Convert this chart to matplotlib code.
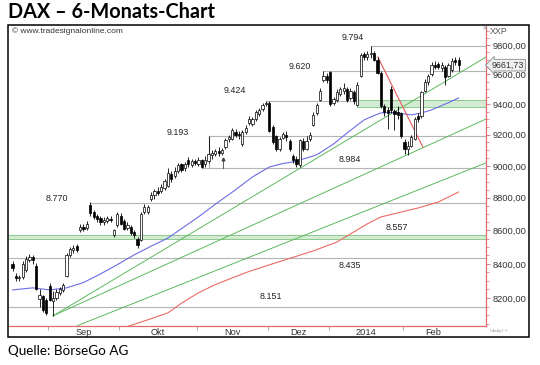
import numpy as np
import matplotlib.pyplot as plt
from matplotlib.patches import Rectangle
from matplotlib.ticker import FixedLocator, NullFormatter
from matplotlib.transforms import blended_transform_factory

# DAX daily candles, trading days from 16 Aug 2013
opens = [8400, 8330, 8315, 8320, 8365, 8420, 8440, 8390, 8195, 8210, 8190, 8270, 8185, 8200, 8230, 8245,
         8330, 8450, 8480, 8505, 8600, 8620, 8615, 8755, 8715, 8690, 8675, 8650, 8660, 8670, 8570, 8630,
         8690, 8660, 8615, 8620, 8590, 8550, 8545, 8710, 8710, 8790, 8815, 8845, 8840, 8860, 8875, 8950,
         8935, 8965, 9010, 8985, 9040, 9005, 9030, 9015, 9035, 9010, 9030, 9070, 9075, 9095, 9080, 9120,
         9170, 9175, 9215, 9205, 9140, 9220, 9275, 9270, 9300, 9335, 9365, 9400, 9410, 9250, 9190, 9110,
         9180, 9200, 9160, 9060, 9045, 9005, 9160, 9110, 9170, 9265, 9340, 9430, 9560, 9585, 9615, 9410,
         9425, 9470, 9490, 9500, 9440, 9480, 9395, 9590, 9735, 9715, 9740, 9745, 9700, 9610, 9385, 9360,
         9500, 9355, 9350, 9340, 9150, 9110, 9130, 9175, 9325, 9320, 9490, 9545, 9600, 9660, 9670, 9640,
         9650, 9590, 9630, 9700, 9700]
highs = [8415, 8345, 8335, 8415, 8445, 8460, 8455, 8405, 8250, 8220, 8200, 8285, 8240, 8250, 8265, 8290,
         8465, 8500, 8515, 8520, 8640, 8640, 8660, 8772, 8725, 8700, 8690, 8680, 8690, 8685, 8610, 8710,
         8705, 8670, 8650, 8635, 8600, 8560, 8710, 8760, 8755, 8835, 8855, 8870, 8885, 8920, 8985, 8965,
         8990, 9020, 9020, 9025, 9055, 9045, 9045, 9055, 9045, 9060, 9193, 9100, 9110, 9120, 9115, 9180,
         9200, 9245, 9240, 9225, 9230, 9260, 9320, 9315, 9360, 9375, 9405, 9424, 9420, 9260, 9200, 9185,
         9220, 9225, 9175, 9075, 9060, 9175, 9180, 9190, 9215, 9345, 9410, 9505, 9620, 9610, 9625, 9445,
         9500, 9515, 9540, 9515, 9510, 9495, 9545, 9745, 9755, 9760, 9794, 9760, 9720, 9620, 9400, 9380,
         9520, 9370, 9390, 9350, 9170, 9160, 9200, 9315, 9340, 9490, 9570, 9605, 9680, 9690, 9685, 9680,
         9660, 9675, 9710, 9715, 9715]
lows = [8360, 8300, 8300, 8310, 8350, 8410, 8400, 8245, 8150, 8120, 8105, 8180, 8098, 8190, 8215, 8235,
        8325, 8440, 8465, 8470, 8590, 8595, 8605, 8690, 8670, 8650, 8635, 8630, 8645, 8650, 8560, 8620,
        8630, 8600, 8600, 8575, 8555, 8495, 8535, 8700, 8700, 8780, 8795, 8815, 8830, 8850, 8865, 8900,
        8925, 8955, 8960, 8970, 8995, 8990, 9005, 9000, 8984, 8995, 9020, 9045, 9060, 9065, 9070, 9110,
        9155, 9165, 9185, 9175, 9125, 9205, 9265, 9255, 9290, 9320, 9355, 9385, 9215, 9140, 9095, 9095,
        9170, 9160, 9095, 9020, 8990, 8990, 9095, 9100, 9160, 9255, 9330, 9420, 9545, 9540, 9385, 9395,
        9415, 9455, 9470, 9415, 9425, 9400, 9385, 9580, 9700, 9700, 9710, 9690, 9600, 9375, 9320, 9240,
        9340, 9230, 9300, 9180, 9075, 9067, 9120, 9165, 9285, 9310, 9480, 9530, 9590, 9635, 9635, 9620,
        9525, 9580, 9615, 9660, 9620]
closes = [8375, 8315, 8325, 8400, 8430, 8440, 8425, 8255, 8215, 8130, 8115, 8190, 8200, 8235, 8250, 8275,
          8450, 8490, 8495, 8485, 8620, 8610, 8640, 8705, 8680, 8670, 8650, 8665, 8675, 8665, 8600, 8700,
          8640, 8610, 8635, 8585, 8570, 8510, 8700, 8745, 8740, 8820, 8840, 8830, 8870, 8905, 8955, 8915,
          8970, 9005, 8975, 9010, 9010, 9030, 9020, 9040, 8990, 9040, 9075, 9080, 9095, 9080, 9100, 9165,
          9185, 9230, 9200, 9195, 9215, 9245, 9300, 9300, 9345, 9360, 9395, 9410, 9225, 9150, 9105, 9170,
          9205, 9185, 9105, 9040, 9010, 9165, 9110, 9160, 9200, 9330, 9395, 9490, 9590, 9560, 9400, 9435,
          9480, 9500, 9510, 9430, 9490, 9420, 9530, 9730, 9720, 9740, 9745, 9700, 9610, 9390, 9350, 9340,
          9360, 9335, 9330, 9190, 9110, 9125, 9185, 9300, 9300, 9480, 9550, 9590, 9660, 9650, 9650, 9660,
          9580, 9660, 9690, 9680, 9661.73]

# moving averages (day index, value)
ma_blue_idx = [0, 6, 11, 16, 21, 26, 31, 36, 41, 46, 51, 55, 60, 66, 71, 76, 80, 83, 87, 90, 95, 99,
               102, 104, 107, 109, 112, 114, 118, 121, 124, 126, 129, 132]
ma_blue_val = [8247, 8259, 8247, 8259, 8290, 8340, 8395, 8453, 8505, 8554, 8625, 8682, 8760, 8850,
               8930, 8993, 9015, 9025, 9050, 9070, 9140, 9211, 9262, 9296, 9325, 9342, 9345, 9342,
               9329, 9342, 9362, 9381, 9410, 9441]
ma_red_idx = [32, 40, 46, 50, 55, 60, 65, 70, 76, 82, 89, 96, 101, 105, 109, 115, 120, 126, 132]
ma_red_val = [8025, 8075, 8115, 8170, 8230, 8278, 8317, 8355, 8394, 8432, 8477, 8530, 8591, 8640,
              8682, 8712, 8737, 8774, 8836]

# trend lines: (start idx, start value, end idx, end value)
green_lines = [(12, 8098, 140.1, 9717), (12, 8098, 140.1, 9302), (19.1, 8041, 140.1, 9019)]
red_line = (108.1, 9717, 121.4, 9121)

# horizontal levels and the day they start from
levels = [9794, 9620, 9424, 9193, 8984, 8770, 8435, 8151]
level_start = [106, 92, 75, 58, 56, 23, -2, -2]
level_text = ["9.794", "9.620", "9.424", "9.193", "8.984", "8.770", "8.435", "8.151"]
text_idx = [100.7, 85.1, 65.8, 49.0, 99.9, 13.2, 99.9, 76.5]
text_val = [9855, 9650, 9489, 9214, 9043, 8795, 8392, 8206]
zones = [(8546, 8573, -2), (9380, 9426, 102)]
zone_text, zone_text_idx, zone_text_val = "8.557", 113.8, 8619

months = ["Sep", "Okt", "Nov", "Dez", "2014", "Feb"]
month_first = [11, 32, 55, 76, 94, 116, 134]
yticks = [8200, 8400, 8600, 8800, 9000, 9200, 9400, 9600, 9800]

W, H = 540, 365
fig = plt.figure(figsize=(W / 100, H / 100), dpi=100)
fig.patch.set_facecolor("white")
ax = fig.add_axes([9 / W, 1 - 326 / H, (486 - 9) / W, 300 / H])
ax.set_yscale("log")
ax.set_ylim(8040, 9932)
ax.set_xlim(-1.04, 140.1)

grey = "#b4b4b4"
for lv, st in zip(levels, level_start):
    ax.plot([st, 141], [lv, lv], color=grey, lw=0.8, zorder=1)
for lo, hi, st in zones:
    ax.fill_between([st, 141], lo, hi, color="#d3ebd3", lw=0, zorder=1)
    ax.plot([st, 141], [lo, lo], color="#8cc98c", lw=0.7, zorder=1)
    ax.plot([st, 141], [hi, hi], color="#8cc98c", lw=0.7, zorder=1)
for t, xi, yv in zip(level_text, text_idx, text_val):
    ax.text(xi, yv, t, ha="center", va="center", fontsize=6.4, family="Liberation Sans", color="#222")
ax.text(zone_text_idx, zone_text_val, zone_text, ha="center", va="center", fontsize=6.4,
        family="Liberation Sans", color="#222")

# small measuring marks
ax.plot([58, 58], [8984, 9193], color=grey, lw=0.8, zorder=1)
ax.plot([62.3, 62.3], [8984, 9045], color="#444", lw=0.6, zorder=1)
ax.plot([62.3], [9045], marker="^", ms=2, color="#444", zorder=1)

for x0, y0, x1, y1 in green_lines:
    ax.plot([x0, x1], [y0, y1], color="#5db85d", lw=0.7, zorder=2)
ax.plot(ma_blue_idx, ma_blue_val, color="#6c6ce6", lw=0.8, zorder=2)
ax.plot(ma_red_idx, ma_red_val, color="#ec6a64", lw=0.8, zorder=2)
ax.plot([red_line[0], red_line[2]], [red_line[1], red_line[3]], color="#e35b5b", lw=0.8, zorder=2)

# candles
idx = np.arange(len(closes))
o = np.array(opens, float)
c = np.array(closes, float)
ax.vlines(idx, lows, highs, color="black", lw=0.6, zorder=3)
up = c >= o
bottoms = np.minimum(o, c)
heights = np.maximum(np.abs(c - o), 4)
ax.bar(idx[up], heights[up], bottom=bottoms[up], width=0.66, color="white",
       edgecolor="black", lw=0.5, zorder=4)
ax.bar(idx[~up], heights[~up], bottom=bottoms[~up], width=0.66, color="black",
       edgecolor="black", lw=0.5, zorder=4)

# axes styling
for s in ["left", "top"]:
    ax.spines[s].set_visible(False)
for s in ["right", "bottom"]:
    ax.spines[s].set_color("#e26a6a")
    ax.spines[s].set_linewidth(0.9)
ax.yaxis.tick_right()
ax.yaxis.set_major_locator(FixedLocator(yticks))
ax.yaxis.set_minor_locator(FixedLocator(np.arange(8050, 9950, 50)))
ax.yaxis.set_minor_formatter(NullFormatter())
ax.set_yticklabels([f"{v:.2f}".replace(".", ",") for v in yticks])
ax.tick_params(axis="y", which="major", length=3, width=0.6, color="#e26a6a", pad=2,
               labelsize=6.7, labelcolor="#333")
ax.tick_params(axis="y", which="minor", length=1.8, width=0.5, color="#e26a6a")
for lab in ax.get_yticklabels():
    lab.set_family("Liberation Sans")

bounds = [m - 0.5 for m in month_first]
centers = [(a + b) / 2 for a, b in zip(bounds[:-1], bounds[1:])]
ax.xaxis.set_major_locator(FixedLocator(bounds[:-1]))
ax.xaxis.set_major_formatter(NullFormatter())
ax.xaxis.set_minor_locator(FixedLocator(centers))
ax.set_xticklabels(months, minor=True)
ax.tick_params(axis="x", which="major", length=3, width=0.6, color="#999")
ax.tick_params(axis="x", which="minor", length=0, pad=1.5, labelsize=6.7, labelcolor="#333")
for lab in ax.get_xticklabels(minor=True):
    lab.set_family("Liberation Sans")

# last price tag
tr = blended_transform_factory(ax.transAxes, ax.transData)
ax.text(1.012, closes[-1], f"{closes[-1]:.2f}".replace(".", ","), transform=tr, ha="left",
        va="center", fontsize=6.4, family="Liberation Sans", color="#333",
        bbox=dict(boxstyle="larrow,pad=0.15", fc="#eeeeee", ec="#8a8a8a", lw=0.6))

fig.text(490 / W, 1 - 31 / H, "XXP", fontsize=6.4, family="Liberation Sans", color="#555", va="center")
fig.text(481 / W, 1 - 28 / H, "×", fontsize=5, color="#999", va="center")
fig.text(12 / W, 1 - 31 / H, "© www.tradesignalonline.com", fontsize=6, family="Liberation Sans",
         color="#333", va="center")
fig.text(490 / W, 1 - 331 / H, "(daily) ©", fontsize=3, color="#888", va="center")

fig.add_artist(Rectangle((8 / W, 1 - 337 / H), (529 - 8) / W, (337 - 25) / H,
                         transform=fig.transFigure, fill=False, ec="black", lw=1.1))
fig.text(8 / W, 1 - 12 / H, "DAX – 6-Monats-Chart", fontsize=14.3, weight="bold", family="Lato",
         va="center")
fig.text(8 / W, 1 - 351 / H, "Quelle: BörseGo AG", fontsize=9.7, family="Lato", va="center")

fig.savefig("out.png", dpi=100)
